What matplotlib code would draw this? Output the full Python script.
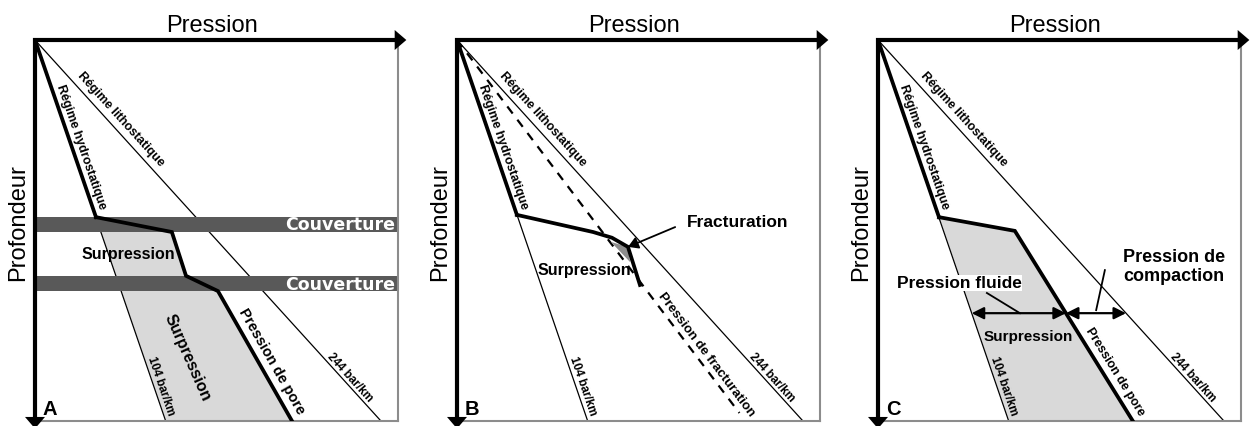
import numpy as np
import matplotlib.pyplot as plt

plt.rcParams['font.family'] = ['Liberation Sans', 'DejaVu Sans']

# ---- data: pressure and depth as % of the frame (pressure across, depth down) ----
hydro_end = 36.0      # 104 bar/km gradient, pressure at the base
litho_end = 95.3      # 244 bar/km gradient, pressure at the base
frac_end_press = 77.8  # fracture-pressure line (panel B)
frac_end_depth = 97.9

# panel A : two seals
pore_a_depth = [46.5, 50.4, 61.9, 65.9, 100.0]
pore_a_press = [16.8, 37.7, 41.6, 50.4, 70.8]
seals_a = [(46.5, 50.4), (61.9, 65.9)]

# panel B : fracturation
pore_b_depth = [45.9, 50.4, 51.9, 54.3, 64.3]
pore_b_press = [16.5, 37.5, 42.7, 47.1, 50.4]
frac_point = (47.1, 54.3)
wedge_b_press = [42.4, 47.1, 47.7]
wedge_b_depth = [53.0, 54.3, 58.3]

# panel C : compaction
pore_c_depth = [46.5, 50.1, 100.0]
pore_c_press = [16.8, 37.7, 70.2]
arrow_depth_c = 71.7

letters = ['A', 'B', 'C']
lefts_px = [35, 457, 878]

W, H = 1250, 426
fig = plt.figure(figsize=(W / 100, H / 100), dpi=100)


def line_label(ax, p0, p1, depth, text, offset, size):
    # put a bold label along the segment p0-p1 (pressure, depth), shifted sideways
    t = (depth - p0[1]) / (p1[1] - p0[1])
    x = p0[0] + t * (p1[0] - p0[0])
    d0 = ax.transData.transform(p0)
    d1 = ax.transData.transform(p1)
    ang = np.degrees(np.arctan2(d1[1] - d0[1], d1[0] - d0[0]))
    r = np.radians(ang)
    ax.annotate(text, (x, depth), xytext=(-np.sin(r) * offset, np.cos(r) * offset),
                textcoords='offset points', rotation=ang, rotation_mode='anchor',
                ha='center', va='center', fontsize=size, fontweight='bold')


axes = []
for left, letter in zip(lefts_px, letters):
    ax = fig.add_axes([left / W, 1 - 421 / H, 363 / W, 381 / H])
    ax.set_xlim(0, 100)
    ax.set_ylim(100, 0)
    ax.set_xticks([])
    ax.set_yticks([])
    for s in ['top', 'left']:
        ax.spines[s].set_visible(False)
    for s in ['right', 'bottom']:
        ax.spines[s].set_color('#8c8c8c')
        ax.spines[s].set_linewidth(1.5)

    # reference gradients
    ax.plot([0, hydro_end], [0, 100], color='k', lw=0.9)
    ax.plot([0, litho_end], [0, 100], color='k', lw=0.9)

    # axes with arrows
    ax.plot([100, 0, 0], [0, 0, 100], color='k', lw=3, solid_joinstyle='miter',
            clip_on=False, zorder=6)
    ax.annotate('', xy=(102.3, 0), xytext=(98, 0), annotation_clip=False, zorder=6,
                arrowprops=dict(arrowstyle='-|>,head_length=0.42,head_width=0.36',
                                mutation_scale=20, lw=0, color='k', shrinkA=0, shrinkB=0))
    ax.annotate('', xy=(0, 102.0), xytext=(0, 98), annotation_clip=False, zorder=6,
                arrowprops=dict(arrowstyle='-|>,head_length=0.42,head_width=0.36',
                                mutation_scale=20, lw=0, color='k', shrinkA=0, shrinkB=0))

    ax.text(0.4876, 1.021, 'Pression', transform=ax.transAxes, ha='center',
            va='baseline', fontsize=17)
    ax.text(-0.047, 0.52, 'Profondeur', transform=ax.transAxes, ha='center',
            va='center', rotation=90, fontsize=17)
    ax.text(0.041, 0.0157, letter, transform=ax.transAxes, ha='center',
            va='baseline', fontsize=14.5, fontweight='bold')

    line_label(ax, (0, 0), (hydro_end, 100), 28.8, 'Régime hydrostatique', 6, 9)
    line_label(ax, (0, 0), (litho_end, 100), 22.7, 'Régime lithostatique', 7.2, 9)
    line_label(ax, (0, 0), (hydro_end, 100), 91.4, '104 bar/km', 4.7, 8.5)
    line_label(ax, (0, 0), (litho_end, 100), 89.7, '244 bar/km', 4.2, 8.5)
    axes.append(ax)

thick = dict(color='k', lw=2.7, solid_joinstyle='miter', zorder=4)

# ---------------- panel A ----------------
ax = axes[0]
d = np.linspace(pore_a_depth[0], 100, 300)
ax.fill_betweenx(d, hydro_end * d / 100, np.interp(d, pore_a_depth, pore_a_press),
                 color='#d9d9d9', lw=0, zorder=1)
for top, bot in seals_a:
    ax.axhspan(top, bot, color='#595959', lw=0, zorder=2)
    ax.text(99.2, bot - 0.4, 'Couverture', ha='right', va='baseline', color='white',
            fontweight='bold', fontsize=12.5, family='DejaVu Sans', zorder=3)
ax.plot([0] + pore_a_press[:1], [0] + pore_a_depth[:1], **thick)
ax.plot(pore_a_press, pore_a_depth, **thick)
ax.text(25.6, 56.4, 'Surpression', ha='center', va='center', fontsize=11.5,
        fontweight='bold', zorder=5)
ax.text(41.9, 83.5, 'Surpression', ha='center', va='center', rotation=-66,
        rotation_mode='anchor', fontsize=11.5, fontweight='bold')
line_label(ax, (pore_a_press[3], pore_a_depth[3]), (pore_a_press[4], pore_a_depth[4]),
           86.0, 'Pression de pore', 8.6, 10.5)

# ---------------- panel B ----------------
ax = axes[1]
ax.plot([0, frac_end_press], [0, frac_end_depth], color='k', lw=1.6,
        linestyle=(0, (4, 3.5)))
ax.fill(wedge_b_press, wedge_b_depth, color='#8c8c8c', lw=0, zorder=3)
ax.plot([0] + pore_b_press[:1], [0] + pore_b_depth[:1], **thick)
ax.plot(pore_b_press, pore_b_depth, **thick)
ax.annotate('', xy=frac_point, xytext=(60.1, 49.1), zorder=5,
            arrowprops=dict(arrowstyle='-|>,head_length=0.5,head_width=0.3',
                            mutation_scale=12, lw=1.3, color='k', shrinkA=0, shrinkB=0))
ax.text(63.4, 47.8, 'Fracturation', ha='left', va='center', fontsize=12.5,
        fontweight='bold')
ax.text(35.0, 60.4, 'Surpression', ha='center', va='center', fontsize=11.5,
        fontweight='bold')
line_label(ax, (0, 0), (frac_end_press, frac_end_depth), 84.0,
           'Pression de fracturation', 6.3, 9.5)

# ---------------- panel C ----------------
ax = axes[2]
d = np.linspace(pore_c_depth[0], 100, 300)
ax.fill_betweenx(d, hydro_end * d / 100, np.interp(d, pore_c_depth, pore_c_press),
                 color='#d9d9d9', lw=0, zorder=1)
ax.plot([0] + pore_c_press[:1], [0] + pore_c_depth[:1], **thick)
ax.plot(pore_c_press, pore_c_depth, **thick)

x_hydro = hydro_end * arrow_depth_c / 100
x_pore = np.interp(arrow_depth_c, pore_c_depth, pore_c_press)
x_litho = litho_end * arrow_depth_c / 100
for xa, xb in [(x_hydro, x_pore), (x_pore, x_litho)]:
    ax.annotate('', xy=(xb, arrow_depth_c), xytext=(xa, arrow_depth_c), zorder=5,
                arrowprops=dict(arrowstyle='<|-|>,head_length=0.6,head_width=0.3',
                                mutation_scale=12, lw=1.6, color='k',
                                shrinkA=0, shrinkB=0))
ax.plot([30.0, 39.1], [66.4, arrow_depth_c], color='k', lw=1.3)
ax.plot([62.5, 60.1], [60.4, 70.9], color='k', lw=1.3)
ax.text(22.3, 63.8, 'Pression fluide', ha='center', va='center', fontsize=12.5,
        fontweight='bold', zorder=5,
        bbox=dict(facecolor='white', edgecolor='none', pad=0.5))
ax.text(67.5, 59.7, 'Pression de\ncompaction', ha='left', va='center', fontsize=13,
        fontweight='bold', linespacing=1.15)
ax.text(41.3, 78.0, 'Surpression', ha='center', va='center', fontsize=11,
        fontweight='bold')
line_label(ax, (pore_c_press[1], pore_c_depth[1]), (pore_c_press[2], pore_c_depth[2]),
           88.6, 'Pression de pore', 7.6, 9)

fig.savefig('out.png', dpi=100)
